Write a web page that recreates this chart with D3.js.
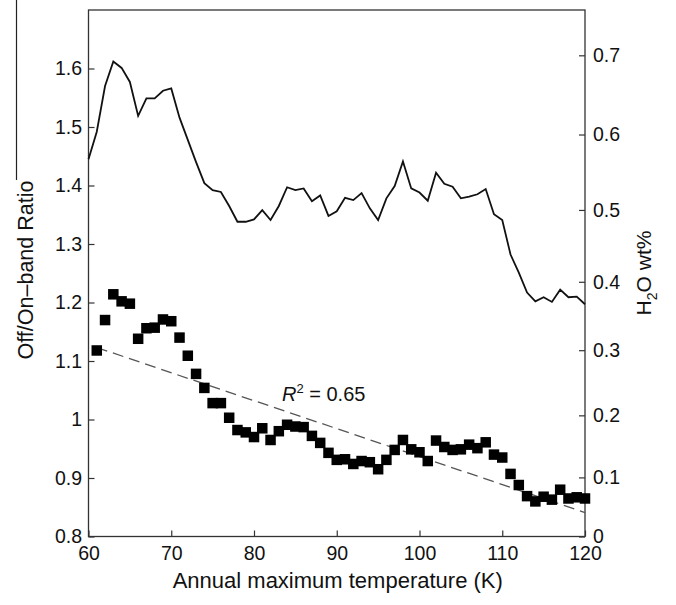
<!DOCTYPE html>
<html>
<head>
<meta charset="utf-8">
<script src="https://cdn.jsdelivr.net/npm/d3@7"></script>
<style>
  html, body { margin: 0; padding: 0; background: #fff; }
  svg { display: block; font-family: "Liberation Sans", Arial, Helvetica, sans-serif; }
</style>
</head>
<body>
<svg id="chart" width="676" height="605"></svg>
<script>
// Off/On-band ratio profile (solid line), sampled every 1 K
const lineTemps = [60,61,62,63,64,65,66,67,68,69,70,71,72,73,74,75,76,77,78,79,80,
  81,82,83,84,85,86,87,88,89,90,91,92,93,94,95,96,97,98,99,100,
  101,102,103,104,105,106,107,108,109,110,111,112,113,114,115,116,117,118,119,120];
const lineRatio = [1.445,1.492,1.570,1.612,1.601,1.577,1.519,1.549,1.549,1.562,1.566,
  1.516,1.478,1.440,1.404,1.392,1.389,1.365,1.338,1.338,1.342,
  1.358,1.341,1.365,1.397,1.392,1.395,1.373,1.383,1.348,1.356,
  1.379,1.375,1.387,1.361,1.341,1.378,1.399,1.441,1.395,1.388,
  1.374,1.422,1.403,1.398,1.378,1.381,1.385,1.394,1.351,1.341,
  1.282,1.251,1.217,1.202,1.209,1.201,1.222,1.209,1.210,1.197];

// Square markers
const squareTemps = [61,62,63,64,65,66,67,68,69,70,71,72,73,74,75,76,77,78,79,80,
  81,82,83,84,85,86,87,88,89,90,91,92,93,94,95,96,97,98,99,100,
  101,102,103,104,105,106,107,108,109,110,111,112,113,114,115,116,117,118,119,120];
const squareRatio = [1.118,1.170,1.214,1.202,1.198,1.138,1.156,1.157,1.171,1.168,
  1.140,1.109,1.078,1.054,1.028,1.028,1.003,0.982,0.978,0.970,
  0.985,0.965,0.980,0.991,0.988,0.987,0.972,0.960,0.943,0.931,
  0.932,0.924,0.929,0.927,0.915,0.931,0.948,0.965,0.949,0.944,
  0.929,0.964,0.953,0.948,0.949,0.957,0.951,0.961,0.940,0.935,
  0.907,0.888,0.869,0.860,0.868,0.863,0.880,0.865,0.867,0.865];

// Linear fit through the squares (end points)
const fitTemps = [61, 120];
const fitRatio = [1.123, 0.841];
const fitLabel = "0.65";

// Axis ticks
const xTicks = [60,70,80,90,100,110,120];
const ratioTicks = [0.8,0.9,1.0,1.1,1.2,1.3,1.4,1.5,1.6];
const waterTicks = [0,0.1,0.2,0.3,0.4,0.5,0.6,0.7];

// Conversion between H2O wt% and the band ratio used for the right-hand axis
const convA = 2.02, convK = 0.488, convBase = 0.8;
const waterToRatio = w => convBase + convA * (Math.exp(convK * w) - 1);

const svg = d3.select("#chart");
const plotL = 88.5, plotR = 585, plotT = 10, plotB = 536.5;

const x = d3.scaleLinear().domain([60, 120]).range([plotL, plotR]);
const y = d3.scaleLinear().domain([0.8, 1.7]).range([plotB, plotT]);
const yWater = d3.scaleLinear().domain(waterTicks).range(waterTicks.map(w => y(waterToRatio(w))));

const fmt = d => String(+d.toFixed(1));
const axisColor = "#333";

// stray rule at the far left
svg.append("line").attr("x1", 16.5).attr("x2", 16.5).attr("y1", 0).attr("y2", 180)
  .attr("stroke", "#222").attr("stroke-width", 1.2);

// Axes (inward ticks)
const gx = svg.append("g").attr("transform", `translate(0,${plotB})`)
  .call(d3.axisBottom(x).tickValues(xTicks).tickSizeInner(-6).tickSizeOuter(0).tickPadding(9.5).tickFormat(d => d));
const gy = svg.append("g").attr("transform", `translate(${plotL},0)`)
  .call(d3.axisLeft(y).tickValues(ratioTicks).tickSizeInner(-6).tickSizeOuter(0).tickPadding(6.5).tickFormat(fmt));
const gr = svg.append("g").attr("transform", `translate(${plotR},0)`)
  .call(d3.axisRight(yWater).tickValues(waterTicks).tickSizeInner(-6).tickSizeOuter(0).tickPadding(8).tickFormat(fmt));

[gx, gy, gr].forEach(g => {
  g.select(".domain").remove();
  g.selectAll(".tick line").attr("stroke", axisColor).attr("stroke-width", 1.2);
  g.selectAll(".tick text").attr("fill", "#111").style("font-size", "19.5px")
    .style("font-family", "'Liberation Sans', Arial, sans-serif");
});

// Frame
svg.append("rect").attr("x", x(60)).attr("y", y(1.7))
  .attr("width", x(120) - x(60)).attr("height", y(0.8) - y(1.7))
  .attr("fill", "none").attr("stroke", axisColor).attr("stroke-width", 1.3);

// Solid profile
const lineData = lineTemps.map((t, i) => [t, lineRatio[i]]);
svg.append("path").datum(lineData)
  .attr("d", d3.line().x(d => x(d[0])).y(d => y(d[1])))
  .attr("fill", "none").attr("stroke", "#111").attr("stroke-width", 1.8)
  .attr("stroke-linejoin", "miter");

// Dashed fit
const fitData = fitTemps.map((t, i) => [t, fitRatio[i]]);
svg.append("path").datum(fitData)
  .attr("d", d3.line().x(d => x(d[0])).y(d => y(d[1])))
  .attr("fill", "none").attr("stroke", "#555").attr("stroke-width", 1.3)
  .attr("stroke-dasharray", "11,6");

// Squares
const sq = 10.5;
svg.append("g").selectAll("rect").data(squareTemps.map((t, i) => [t, squareRatio[i]]))
  .join("rect")
  .attr("x", d => x(d[0]) - sq / 2).attr("y", d => y(d[1]) - sq / 2)
  .attr("width", sq).attr("height", sq).attr("fill", "#000");

// R² annotation
const rt = svg.append("text").attr("x", 282).attr("y", 401)
  .style("font-size", "20px").attr("fill", "#111");
rt.append("tspan").text("R").style("font-style", "italic");
rt.append("tspan").text("2").attr("dy", -8).style("font-size", "13px");
rt.append("tspan").text(" = " + fitLabel).attr("dy", 8);

// Axis titles
svg.append("text").attr("x", (plotL + plotR) / 2 + 1).attr("y", 588)
  .attr("text-anchor", "middle").style("font-size", "22px").attr("fill", "#111")
  .text("Annual maximum temperature (K)");

svg.append("text").attr("transform", "translate(33,270) rotate(-90)")
  .attr("text-anchor", "middle").style("font-size", "21.5px").attr("fill", "#111")
  .text("Off/On\u2013band Ratio");

const rtitle = svg.append("text").attr("transform", "translate(651,273) rotate(-90)")
  .attr("text-anchor", "middle").style("font-size", "21px").attr("fill", "#111");
rtitle.append("tspan").text("H");
rtitle.append("tspan").text("2").attr("dy", 6).style("font-size", "14px");
rtitle.append("tspan").text("O wt%").attr("dy", -6);
</script>
</body>
</html>
